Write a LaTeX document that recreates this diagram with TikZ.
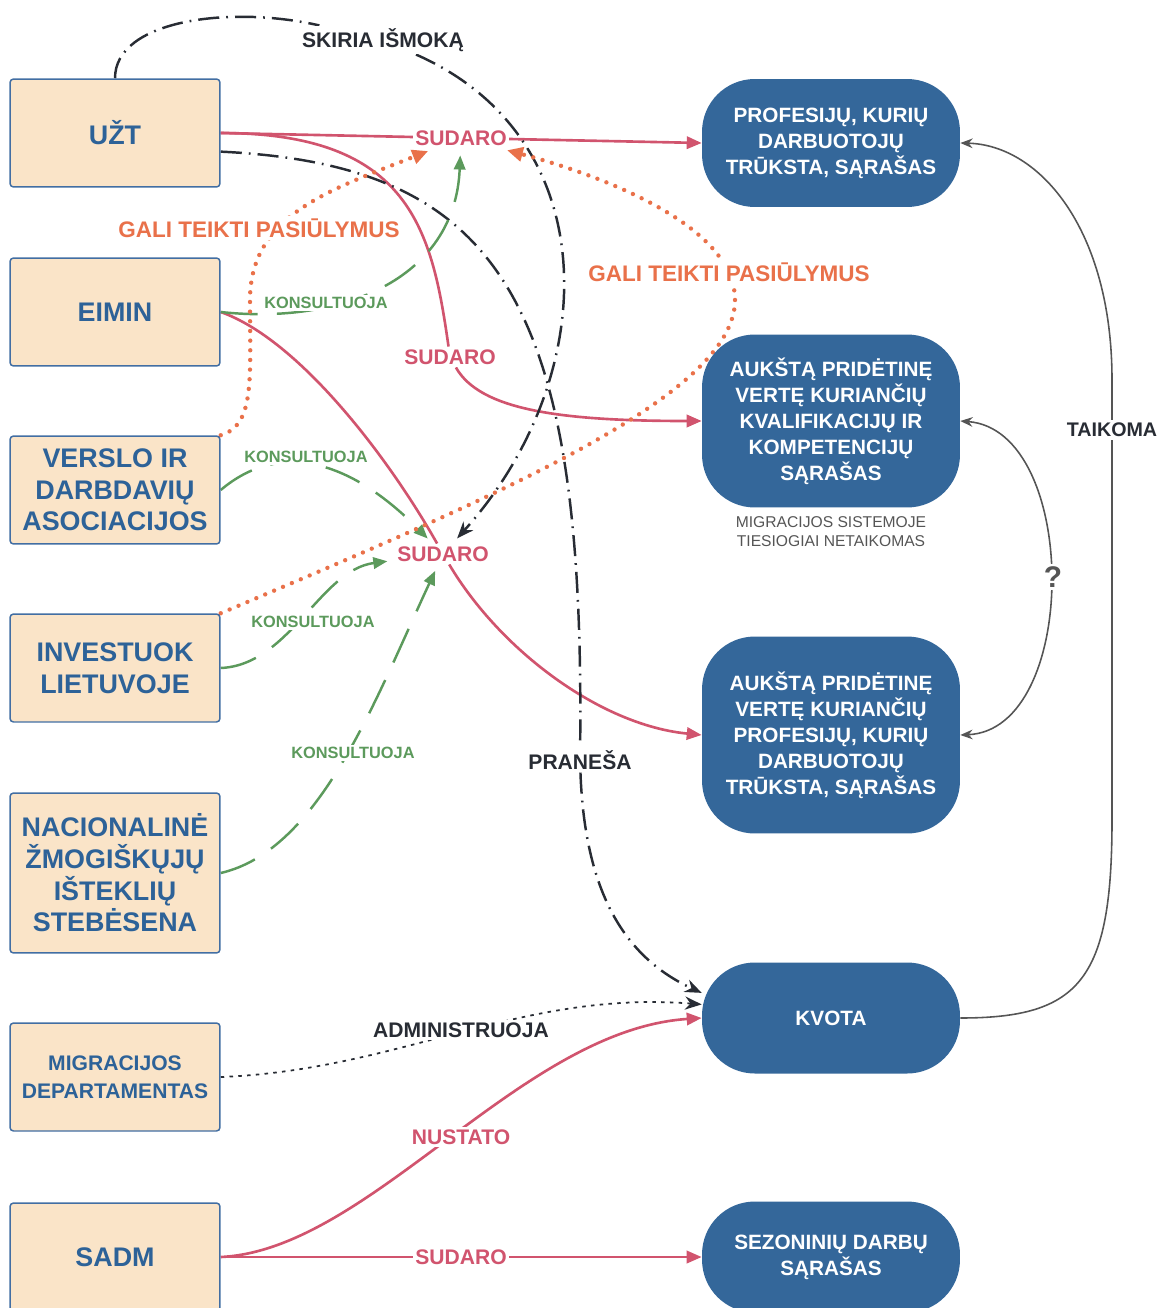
\documentclass[tikz,border=0pt]{standalone}
\usepackage{fontspec}
\setmainfont{Liberation Sans}
\usetikzlibrary{arrows.meta}
\pgfdeclarelayer{background}
\pgfsetlayers{background,main}

\begin{document}
\begin{tikzpicture}[x=0.02cm, y=-0.02cm]
    % Define migration palette
    \definecolor{migbeige}{RGB}{250,228,200}
    \definecolor{migframe}{RGB}{66,110,163}
    \definecolor{migtext}{RGB}{45,98,152}
    \definecolor{migblue}{RGB}{52,103,154}
    \definecolor{migred}{RGB}{209,84,110}
    \definecolor{miggreen}{RGB}{92,154,92}
    \definecolor{migorange}{RGB}{233,113,74}
    \definecolor{migdark}{RGB}{40,44,52}
    \definecolor{miggray}{RGB}{85,85,85}

    % Define styles
    \tikzset{
        actor/.style={
            draw=migframe,
            fill=migbeige,
            line width=0.85pt,
            rounded corners=2pt,
            minimum width=4.2cm,
            minimum height=2.16cm,
            align=center,
            text=migtext,
            font=\fontsize{15.3}{18}\selectfont\bfseries
        },
        list/.style={
            fill=migblue,
            rounded corners=30pt,
            minimum width=5.16cm,
            align=center,
            text=white,
            font=\fontsize{11.8}{14.8}\selectfont\bfseries
        },
        verb/.style={
            fill=white,
            inner sep=1.5pt,
            align=center,
            font=\fontsize{12}{14}\selectfont\bfseries
        },
        consult/.style={
            verb,
            text=miggreen,
            font=\fontsize{9.3}{11}\selectfont\bfseries
        },
        relred/.style={
            migred,
            line width=1.5pt,
            -{Triangle[length=8.5pt,width=7pt]}
        },
        relgreen/.style={
            miggreen,
            line width=1.4pt,
            dash pattern=on 21pt off 11pt,
            shorten >=4pt,
            -{Triangle[length=8pt,width=6.5pt]}
        },
        relorange/.style={
            migorange,
            line width=2.5pt,
            line cap=round,
            dash pattern=on 0pt off 5.5pt,
            shorten >=4pt,
            -{Triangle[length=9pt,width=8pt,line cap=butt]}
        },
        reldark/.style={
            migdark,
            line width=1.4pt,
            dash pattern=on 12pt off 4pt on 1pt off 4pt,
            -{Stealth[length=9.5pt,width=7.5pt]}
        },
        reldot/.style={
            migdark,
            line width=1pt,
            dash pattern=on 2pt off 3pt,
            -{Stealth[length=9.5pt,width=7.5pt]}
        },
        relgray/.style={
            miggray,
            line width=0.9pt,
            -{Stealth[length=7pt,width=5.5pt]}
        }
    }

    \useasboundingbox (0,0) rectangle (1161,1308);
    \clip (0,0) rectangle (1161,1308);

    % Institutions (left column)
    \node[actor] (uzt) at (115,133) {UŽT};
    \node[actor] (eimin) at (115,312) {EIMIN};
    \node[actor] (verslo) at (115,490) {VERSLO IR\\DARBDAVIŲ\\ASOCIACIJOS};
    \node[actor] (investuok) at (115,668) {INVESTUOK\\LIETUVOJE};
    \node[actor, minimum height=3.2cm] (nacional) at (115,873) {NACIONALINĖ\\ŽMOGIŠKŲJŲ\\IŠTEKLIŲ\\STEBĖSENA};
    \node[actor, font=\fontsize{12}{16}\selectfont\bfseries] (migr) at (115,1077) {MIGRACIJOS\\DEPARTAMENTAS};
    \node[actor] (sadm) at (115,1257) {SADM};

    % Lists and quota (right column)
    \node[list, minimum height=2.56cm] (prof) at (831,143) {PROFESIJŲ, KURIŲ\\DARBUOTOJŲ\\TRŪKSTA, SĄRAŠAS};
    \node[list, minimum height=3.46cm] (kvalif) at (831,421) {AUKŠTĄ PRIDĖTINĘ\\VERTĘ KURIANČIŲ\\KVALIFIKACIJŲ IR\\KOMPETENCIJŲ\\SĄRAŠAS};
    \node[list, minimum height=3.94cm] (aukprof) at (831,735) {AUKŠTĄ PRIDĖTINĘ\\VERTĘ KURIANČIŲ\\PROFESIJŲ, KURIŲ\\DARBUOTOJŲ\\TRŪKSTA, SĄRAŠAS};
    \node[list, minimum height=2.22cm] (kvota) at (831,1018) {KVOTA};
    \node[list, minimum height=2.22cm] (sezon) at (831,1257) {SEZONINIŲ DARBŲ\\SĄRAŠAS};
    \node[align=center, text=miggray, font=\fontsize{8.9}{10.8}\selectfont] (note) at (831,532) {MIGRACIJOS SISTEMOJE\\TIESIOGIAI NETAIKOMAS};

    % Relation labels
    \node[verb, text=migred] (sud1) at (461,138) {SUDARO};
    \node[verb, text=migred] (sud2) at (450,357) {SUDARO};
    \node[verb, text=migred] (sud3) at (443,554) {SUDARO};
    \node[verb, text=migred] (nustato) at (461,1137) {NUSTATO};
    \node[verb, text=migred] (sud5) at (461,1257) {SUDARO};
    \node[verb, text=migdark] (skiria) at (383,40) {SKIRIA IŠMOKĄ};
    \node[verb, text=migdark] (pranesa) at (580,760) {PRANEŠA};
    \node[verb, text=migdark] (admin) at (461,1030) {ADMINISTRUOJA};
    \node[verb, text=migdark, font=\fontsize{11.2}{13}\selectfont\bfseries] (taikoma) at (1112,430) {TAIKOMA};
    \node[verb, text=miggray, font=\fontsize{17}{19}\selectfont\bfseries] (klaus) at (1053,577) {?};
    \node[verb, text=migorange, font=\fontsize{12.8}{14}\selectfont\bfseries] (gali1) at (259,228) {GALI TEIKTI PASIŪLYMUS};
    \node[verb, text=migorange, font=\fontsize{12.8}{14}\selectfont\bfseries] (gali2) at (729,272) {GALI TEIKTI PASIŪLYMUS};
    \node[consult] (kons1) at (326,303) {KONSULTUOJA};
    \node[consult] (kons2) at (306,457) {KONSULTUOJA};
    \node[consult] (kons3) at (313,622) {KONSULTUOJA};
    \node[consult] (kons4) at (353,753) {KONSULTUOJA};

    \begin{pgfonlayer}{background}
        % Lists drawn up by institutions
        \draw[relred] (uzt.east) -- (prof.west);
        \draw[relred, -] (uzt.east) .. controls (410,133) and (432,230) .. (sud2);
        \draw[relred] (sud2) .. controls (480,410) and (560,421) .. (kvalif.west);
        \draw[relred, -] (eimin.east) .. controls (300,340) and (390,460) .. (sud3);
        \draw[relred] (sud3) .. controls (500,650) and (600,725) .. (aukprof.west);
        \draw[relred] (sadm.east) .. controls (370,1250) and (520,1030) .. (kvota.west);
        \draw[relred] (sadm.east) -- (sezon.west);

        % Benefits and notices
        \draw[reldark, -] (uzt.north) .. controls (115,20) and (230,5) .. (skiria);
        \draw[reldark, shorten >=4pt] (skiria) .. controls (610,140) and (600,380) .. (sud3);
        \draw[reldark, -] (uzt.-10) .. controls (500,165) and (585,300) .. (pranesa);
        \draw[reldark] (pranesa) .. controls (585,900) and (630,960) .. (kvota.169);
        \draw[reldot] (migr.east) .. controls (400,1070) and (520,990) .. (kvota.174);

        % Consultations
        \draw[relgreen] (eimin.east) .. controls (340,325) and (455,280) .. (sud1);
        \draw[relgreen] (verslo.east) .. controls (280,440) and (350,460) .. (sud3);
        \draw[relgreen] (investuok.east) .. controls (290,665) and (320,570) .. (sud3);
        \draw[relgreen] (nacional.east) .. controls (320,850) and (375,700) .. (sud3);

        % Proposals
        \draw[relorange] (verslo.north east) .. controls (255,425) and (250,380) .. (250,300)
            .. controls (250,215) and (330,190) .. (sud1);
        \draw[relorange] (investuok.north east) .. controls (500,495) and (735,395) .. (735,300)
            .. controls (735,225) and (600,175) .. (sud1);

        % Quota applies to the lists
        \draw[relgray] (kvota.east) .. controls (1080,1018) and (1112,980) .. (1112,820)
            -- (1112,380) .. controls (1112,230) and (1040,145) .. (prof.east);
        \draw[relgray, {Stealth[length=7pt,width=5.5pt]}-{Stealth[length=7pt,width=5.5pt]}] (kvalif.east) .. controls (1080,430) and (1080,730) .. (aukprof.east);
    \end{pgfonlayer}
\end{tikzpicture}
\end{document}
